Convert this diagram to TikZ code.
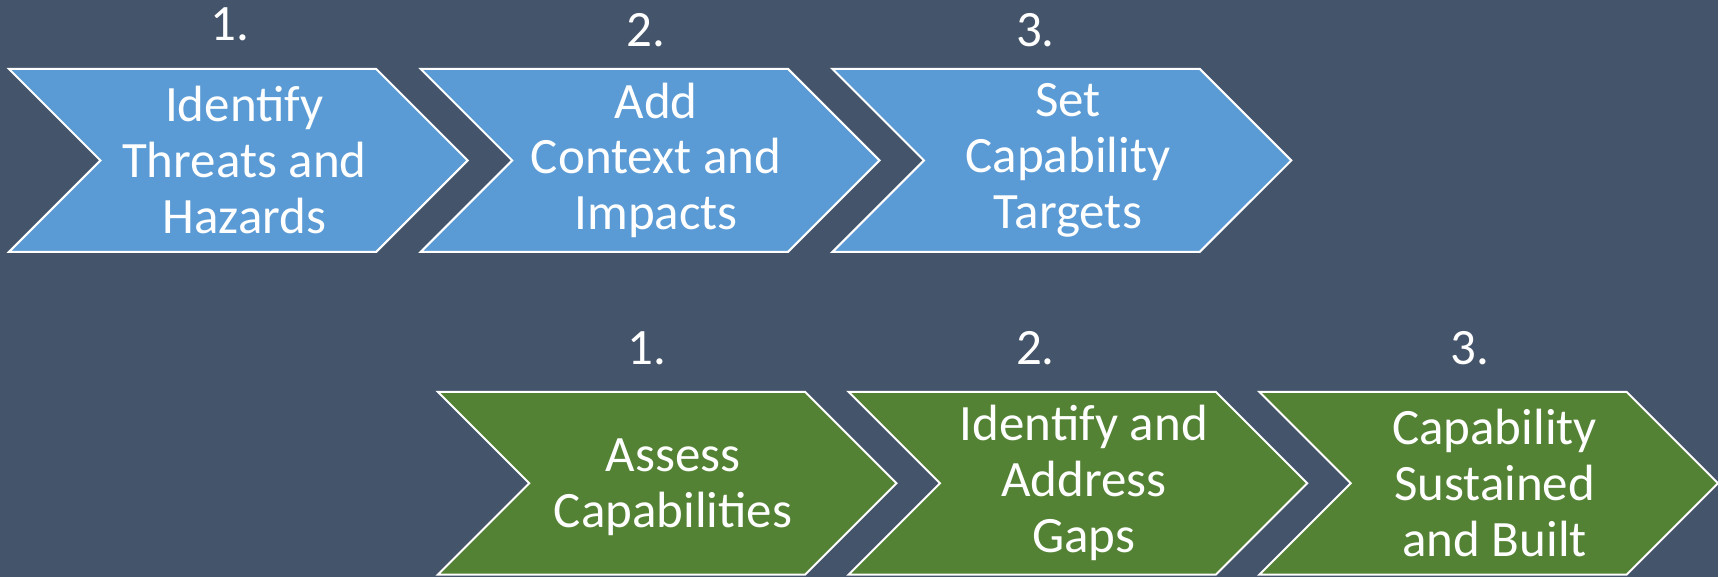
\documentclass[tikz,border=0pt]{standalone}
\usepackage{fontspec}
\setmainfont{Carlito}
\usetikzlibrary{shapes.symbols, positioning}

\definecolor{bgslate}{HTML}{44546A}
\definecolor{planblue}{HTML}{5B9BD5}
\definecolor{buildgreen}{HTML}{548235}

\begin{document}
\begin{tikzpicture}[
    x=0.5pt, y=-0.5pt,
    every node/.style={text=white, font=\fontsize{25.5}{28}\selectfont},
    chevron/.style={shape=signal, signal from=west, signal to=east, signal pointer angle=90,
      draw=white, line width=1pt, minimum width=229.5pt, minimum height=91.5pt,
      inner sep=0pt},
    planstep/.style={chevron, fill=planblue},
    buildstep/.style={chevron, fill=buildgreen},
    steptext/.style={align=center, inner sep=0pt, xshift=3pt},
    stepnum/.style={inner sep=0pt}
  ]
  % background
  \fill[bgslate] (0,0) rectangle (1719,577);

  % top row: planning steps
  \node[planstep, label={[steptext]center:{Identify\\Threats and\\Hazards}}] (threats) at (238.5,160.5) {};
  \node[planstep, label={[steptext]center:{Add\\Context and\\Impacts}}] (context) at (650.5,160.5) {};
  \node[planstep, label={[steptext]center:{Set\\Capability\\Targets}}] (targets) at (1062.5,160.5) {};

  % bottom row: building steps
  \node[buildstep, label={[steptext, yshift=-2pt]center:{Assess\\Capabilities}}] (assess) at (667.5,483.5) {};
  \node[buildstep, label={[steptext]center:{Identify and\\Address\\Gaps}}] (gaps) at (1078.5,483.5) {};
  \node[buildstep, label={[steptext]center:{Capability\\Sustained\\and Built}}] (sustain) at (1489.5,483.5) {};

  % step numbers
  \node[stepnum] (n1top) at (230,24.5) {1.};
  \node[stepnum] (n2top) at (646,30) {2.};
  \node[stepnum] (n3top) at (1036,30) {3.};
  \node[stepnum] (n1bot) at (647,348.5) {1.};
  \node[stepnum] (n2bot) at (1036,348.5) {2.};
  \node[stepnum] (n3bot) at (1471,348.5) {3.};
\end{tikzpicture}
\end{document}
